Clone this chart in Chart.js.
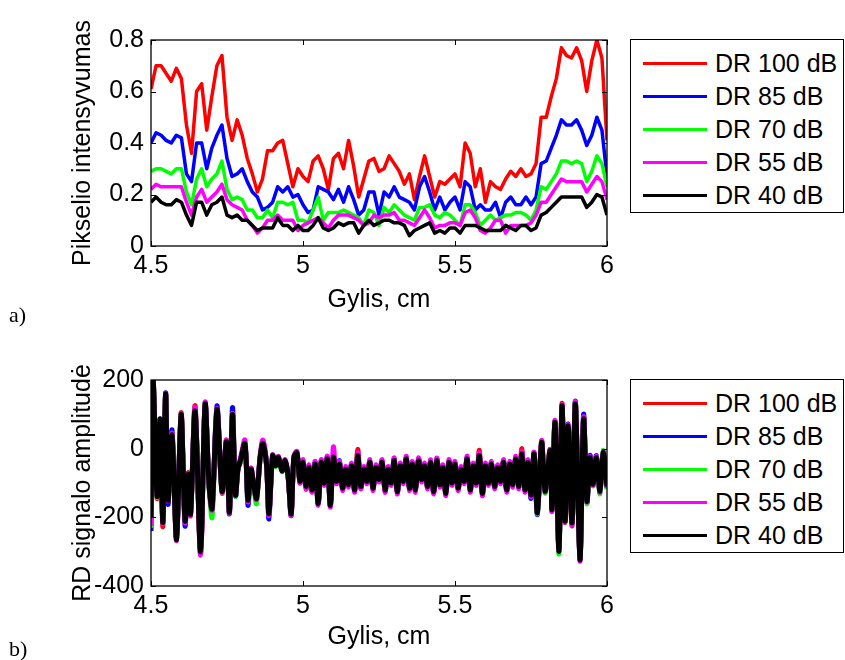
<!DOCTYPE html>
<html>
<head>
<meta charset="utf-8">
<script src="https://cdn.jsdelivr.net/npm/chart.js@4.4.0/dist/chart.umd.min.js"></script>
<style>
  html, body { margin: 0; padding: 0; background: #fff; }
  body { width: 845px; height: 660px; position: relative; overflow: hidden; font-family: "Liberation Sans", Arial, sans-serif; }
  canvas { position: absolute; left: 0; }
  .legend { position: absolute; left: 630px; width: 214px; height: 174px; border: 1px solid #000; box-sizing: border-box; background: #fff; }
  .row { position: absolute; left: 0; height: 30px; display: flex; align-items: center; font-size: 25px; color: #000; }
  .sample { width: 64px; height: 0; border-top: 3px solid #000; margin-left: 12px; margin-right: 8px; }
  .tag { position: absolute; left: 9px; font-family: "Liberation Serif", "Times New Roman", serif; font-size: 22px; line-height: 22px; }
</style>
</head>
<body>
<canvas id="chartIntensity" width="620" height="320" style="top:0"></canvas>
<canvas id="chartRd" width="620" height="320" style="top:340px"></canvas>
<div class="legend" id="legendIntensity" style="top:39px"></div>
<div class="legend" id="legendRd" style="top:379px"></div>
<div class="tag" style="top:304px">a)</div>
<div class="tag" style="top:638px">b)</div>
<script>
// --- series ---
const seriesNames = ['DR 100 dB', 'DR 85 dB', 'DR 70 dB', 'DR 55 dB', 'DR 40 dB'];
const seriesColors = ['#ff0000', '#0000ff', '#00ff00', '#ff00ff', '#000000'];

// --- axes ---
const depthTicks = [4.5, 5, 5.5, 6];
const intensityTicks = [0, 0.2, 0.4, 0.6, 0.8];
const amplitudeTicks = [-400, -200, 0, 200];
const depthStart = 4.5, depthEnd = 6;

// a) pixel intensity, sampled every 1/60 cm from 4.5 to 6 cm
const intensity100 = [
  0.61, 0.70, 0.70, 0.67, 0.64, 0.69, 0.65, 0.47, 0.36, 0.60,
  0.63, 0.45, 0.58, 0.70, 0.74, 0.50, 0.41, 0.49, 0.43, 0.34,
  0.28, 0.21, 0.26, 0.37, 0.37, 0.40, 0.41, 0.32, 0.23, 0.30,
  0.27, 0.25, 0.33, 0.35, 0.30, 0.22, 0.34, 0.36, 0.30, 0.41,
  0.31, 0.19, 0.26, 0.33, 0.34, 0.29, 0.30, 0.35, 0.32, 0.29,
  0.24, 0.28, 0.18, 0.27, 0.35, 0.27, 0.19, 0.25, 0.24, 0.26,
  0.28, 0.23, 0.40, 0.36, 0.23, 0.30, 0.17, 0.25, 0.23, 0.22,
  0.26, 0.29, 0.27, 0.30, 0.27, 0.28, 0.32, 0.50, 0.50, 0.58,
  0.65, 0.77, 0.74, 0.73, 0.77, 0.72, 0.60, 0.72, 0.80, 0.73,
  0.41
];
const intensity85 = [
  0.40, 0.44, 0.43, 0.41, 0.40, 0.43, 0.42, 0.28, 0.25, 0.40,
  0.40, 0.30, 0.38, 0.43, 0.47, 0.34, 0.27, 0.28, 0.30, 0.25,
  0.21, 0.19, 0.14, 0.15, 0.17, 0.23, 0.21, 0.23, 0.19, 0.20,
  0.16, 0.13, 0.14, 0.23, 0.22, 0.21, 0.18, 0.22, 0.17, 0.23,
  0.18, 0.12, 0.14, 0.21, 0.21, 0.12, 0.21, 0.19, 0.23, 0.19,
  0.18, 0.17, 0.14, 0.23, 0.27, 0.21, 0.14, 0.19, 0.14, 0.17,
  0.19, 0.14, 0.25, 0.23, 0.14, 0.16, 0.14, 0.14, 0.17, 0.11,
  0.17, 0.19, 0.16, 0.16, 0.19, 0.16, 0.19, 0.32, 0.33, 0.38,
  0.43, 0.49, 0.47, 0.47, 0.49, 0.45, 0.39, 0.43, 0.50, 0.45,
  0.27
];
const intensity70 = [
  0.29, 0.30, 0.30, 0.29, 0.28, 0.30, 0.30, 0.21, 0.16, 0.26,
  0.30, 0.23, 0.26, 0.28, 0.33, 0.22, 0.18, 0.19, 0.18, 0.14,
  0.14, 0.11, 0.11, 0.14, 0.11, 0.17, 0.17, 0.16, 0.17, 0.10,
  0.10, 0.09, 0.14, 0.19, 0.10, 0.13, 0.13, 0.13, 0.14, 0.13,
  0.12, 0.11, 0.08, 0.14, 0.13, 0.08, 0.15, 0.13, 0.16, 0.14,
  0.12, 0.11, 0.10, 0.15, 0.15, 0.16, 0.12, 0.11, 0.13, 0.12,
  0.10, 0.08, 0.16, 0.16, 0.13, 0.08, 0.10, 0.12, 0.10, 0.11,
  0.12, 0.12, 0.13, 0.13, 0.12, 0.10, 0.14, 0.23, 0.22, 0.25,
  0.28, 0.33, 0.33, 0.32, 0.33, 0.32, 0.25, 0.29, 0.35, 0.32,
  0.23
];
const intensity55 = [
  0.22, 0.24, 0.23, 0.23, 0.23, 0.23, 0.23, 0.17, 0.12, 0.19,
  0.22, 0.17, 0.19, 0.21, 0.24, 0.18, 0.16, 0.15, 0.14, 0.10,
  0.08, 0.05, 0.07, 0.10, 0.10, 0.12, 0.10, 0.10, 0.10, 0.06,
  0.08, 0.09, 0.10, 0.11, 0.09, 0.07, 0.10, 0.12, 0.12, 0.12,
  0.11, 0.10, 0.08, 0.09, 0.12, 0.11, 0.12, 0.12, 0.13, 0.10,
  0.10, 0.09, 0.08, 0.11, 0.14, 0.11, 0.07, 0.08, 0.08, 0.09,
  0.09, 0.08, 0.13, 0.14, 0.11, 0.06, 0.05, 0.07, 0.10, 0.10,
  0.05, 0.08, 0.08, 0.08, 0.08, 0.09, 0.12, 0.17, 0.17, 0.20,
  0.23, 0.26, 0.25, 0.25, 0.25, 0.25, 0.21, 0.24, 0.27, 0.25,
  0.18
];
const intensity40 = [
  0.17, 0.19, 0.17, 0.16, 0.16, 0.18, 0.17, 0.12, 0.08, 0.17,
  0.17, 0.12, 0.16, 0.17, 0.19, 0.12, 0.11, 0.12, 0.10, 0.10,
  0.08, 0.06, 0.07, 0.07, 0.07, 0.11, 0.08, 0.08, 0.06, 0.08,
  0.06, 0.06, 0.08, 0.11, 0.07, 0.06, 0.07, 0.09, 0.08, 0.09,
  0.09, 0.05, 0.08, 0.10, 0.08, 0.09, 0.10, 0.10, 0.09, 0.09,
  0.08, 0.04, 0.06, 0.07, 0.08, 0.09, 0.05, 0.06, 0.05, 0.07,
  0.07, 0.05, 0.08, 0.08, 0.08, 0.07, 0.06, 0.06, 0.06, 0.06,
  0.08, 0.07, 0.06, 0.08, 0.08, 0.06, 0.07, 0.12, 0.13, 0.15,
  0.17, 0.19, 0.19, 0.19, 0.19, 0.19, 0.15, 0.17, 0.20, 0.19,
  0.12
];

// b) RF signal amplitude, read at the turning points of the trace
const rdDepth = [
  4.500, 4.507, 4.520, 4.530, 4.539, 4.548, 4.556, 4.569, 4.584, 4.599,
  4.612, 4.622, 4.630, 4.645, 4.663, 4.678, 4.691, 4.701, 4.717, 4.734,
  4.748, 4.758, 4.768, 4.778, 4.786, 4.794, 4.809, 4.819, 4.829, 4.837,
  4.847, 4.859, 4.868, 4.880, 4.888, 4.900, 4.910, 4.919, 4.931, 4.941,
  4.951, 4.961, 4.970, 4.980,
  4.99, 5.00, 5.01, 5.02, 5.03, 5.04, 5.05, 5.06, 5.07, 5.08,
  5.09, 5.10, 5.11, 5.12, 5.13, 5.14, 5.15, 5.16, 5.17, 5.18,
  5.19, 5.20, 5.21, 5.22, 5.23, 5.24, 5.25, 5.26, 5.27, 5.28,
  5.29, 5.30, 5.31, 5.32, 5.33, 5.34, 5.35, 5.36, 5.37, 5.38,
  5.39, 5.40, 5.41, 5.42, 5.43, 5.44, 5.45, 5.46, 5.47, 5.48,
  5.49, 5.50, 5.51, 5.52, 5.53, 5.54, 5.55, 5.56, 5.57, 5.58,
  5.59, 5.60, 5.61, 5.62, 5.63, 5.64, 5.65, 5.66, 5.67, 5.68,
  5.69, 5.70, 5.71, 5.72, 5.73, 5.74, 5.75,
  5.760, 5.771, 5.785, 5.796, 5.813, 5.819, 5.829, 5.842, 5.852, 5.862,
  5.872, 5.885, 5.896, 5.911, 5.923, 5.934, 5.944, 5.954, 5.965, 5.977,
  5.987, 6.000
];
const rd100 = [
  -220, 195, -145, 80, -227, 158, -155, 35, -255, 105, -205, -70, -195, 125, -305, 128, -110, -170, 110, -130,
  25, -180, 98, -130, -55, -40, 10, -145, -65, -95, -140, -30, 12, -50, -185, -25, -45, -30, -60, -40,
  -85, -185, -30, -15,
  -100, -38, -118, -52, -125, -42, -158, -38, -105, -28, -162, -22, -100, -42, -118, -58, -108, -48, -122, -2,
  -112, -58, -98, -38, -118, -52, -95, -38, -125, -58, -102, -32, -128, -48, -98, -28, -118, -42, -122, -32,
  -95, -48, -112, -38, -128, -33, -108, -52, -133, -38, -102, -42, -118, -58, -98, -28, -123, -48, -102, -5,
  -133, -48, -102, -42, -113, -52, -98, -38, -123, -42, -108, -28, -112, 0, -122, -38, -138,
  -12, -183, 22, -120, -2, -182, 80, -292, 132, -215, 70, -225, 133, -318, 90, -150, -22, -108, -30, -120,
  -14, -112
];
const rd85 = [
  -240, 196, -135, 84, -210, 163, -162, 55, -260, 98, -225, -72, -188, 112, -295, 127, -108, -172, 125, -122,
  18, -190, 120, -137, -62, -33, 12, -165, -58, -103, -143, -28, 18, -43, -205, -22, -48, -27, -63, -37,
  -78, -195, -27, -14,
  -92, -35, -113, -50, -118, -40, -157, -35, -103, -25, -168, -28, -98, -35, -113, -62, -103, -45, -118, -18,
  -115, -58, -93, -38, -117, -50, -88, -35, -118, -62, -103, -30, -127, -45, -93, -27, -117, -40, -118, -30,
  -93, -45, -112, -38, -127, -30, -108, -50, -128, -37, -103, -40, -117, -55, -98, -27, -118, -45, -98, -18,
  -128, -45, -103, -40, -112, -50, -98, -35, -118, -40, -103, -27, -113, -12, -118, -35, -145,
  -18, -192, 15, -128, -10, -173, 73, -295, 120, -205, 72, -212, 138, -320, 100, -157, -20, -100, -20, -128,
  -8, -115
];
const rd70 = [
  -230, 197, -142, 88, -212, 159, -148, 42, -262, 96, -212, -78, -192, 108, -298, 132, -110, -200, 113, -128,
  22, -183, 102, -138, -58, -37, 13, -152, -62, -102, -160, -23, 14, -47, -192, -18, -52, -23, -67, -33,
  -82, -192, -23, -10,
  -98, -42, -107, -58, -117, -48, -162, -42, -98, -32, -163, -28, -92, -48, -112, -63, -102, -53, -118, -22,
  -108, -63, -92, -43, -112, -58, -87, -43, -117, -63, -98, -38, -122, -53, -92, -33, -112, -48, -117, -38,
  -88, -53, -108, -43, -122, -38, -102, -58, -127, -43, -98, -48, -112, -63, -92, -33, -117, -53, -97, -22,
  -127, -53, -97, -48, -107, -58, -92, -43, -117, -48, -102, -33, -107, -18, -117, -43, -132,
  -14, -190, 20, -130, -4, -180, 78, -307, 122, -208, 64, -220, 135, -322, 83, -160, -30, -108, -24, -132,
  -5, -118
];
const rd55 = [
  -225, 199, -137, 87, -218, 161, -152, 45, -268, 102, -215, -73, -193, 120, -310, 135, -103, -178, 117, -127,
  25, -188, 103, -133, -57, -30, 25, -155, -57, -98, -148, -20, 25, -43, -195, -18, -48, -22, -62, -32,
  -78, -195, -22, -8,
  -100, -32, -117, -47, -127, -37, -165, -32, -107, -22, -170, 5, -102, -37, -122, -52, -112, -42, -127, -12,
  -117, -52, -102, -32, -122, -47, -97, -32, -127, -52, -107, -27, -132, -42, -102, -22, -122, -37, -127, -27,
  -97, -42, -117, -32, -132, -27, -112, -47, -137, -32, -107, -37, -122, -52, -102, -22, -127, -42, -107, -12,
  -137, -42, -107, -37, -117, -47, -102, -32, -127, -37, -112, -22, -117, -8, -127, -32, -140,
  -10, -185, 24, -126, -3, -183, 82, -296, 128, -213, 70, -222, 136, -328, 92, -155, -23, -106, -23, -127,
  -9, -114
];
const rd40 = [
  -200, 198, -139, 86, -215, 160, -150, 40, -265, 100, -210, -75, -190, 110, -300, 130, -105, -175, 115, -125,
  20, -185, 100, -135, -60, -35, 15, -150, -60, -100, -145, -25, 15, -45, -190, -20, -50, -25, -65, -35,
  -80, -190, -25, -12,
  -95, -40, -110, -55, -120, -45, -160, -40, -100, -30, -165, -25, -95, -45, -115, -60, -105, -50, -120, -20,
  -110, -60, -95, -40, -115, -55, -90, -40, -120, -60, -100, -35, -125, -50, -95, -30, -115, -45, -120, -35,
  -90, -50, -110, -40, -125, -35, -105, -55, -130, -40, -100, -45, -115, -60, -95, -30, -120, -50, -100, -20,
  -130, -50, -100, -45, -110, -55, -95, -40, -120, -45, -105, -30, -110, -15, -120, -40, -135,
  -15, -187, 18, -124, -6, -177, 76, -299, 125, -211, 67, -216, 130, -324, 86, -153, -26, -104, -26, -124,
  -11, -110
];

const intensitySeries = [intensity100, intensity85, intensity70, intensity55, intensity40];
const rdSeries = [rd100, rd85, rd70, rd55, rd40];

Chart.defaults.font.family = '"Liberation Sans", Arial, sans-serif';
Chart.defaults.font.size = 25;
Chart.defaults.color = '#000';

// axes box with inward ticks on all four sides, like the original figure
const axesBox = {
  id: 'axesBox',
  afterDraw(chart) {
    const { ctx, chartArea: a, scales } = chart;
    const len = 5;
    ctx.save();
    ctx.strokeStyle = '#000';
    ctx.lineWidth = 1.3;
    ctx.strokeRect(a.left, a.top, a.right - a.left, a.bottom - a.top);
    ctx.lineWidth = 1;
    ctx.beginPath();
    scales.x.ticks.forEach(t => {
      const px = Math.round(scales.x.getPixelForValue(t.value)) + 0.5;
      ctx.moveTo(px, a.bottom); ctx.lineTo(px, a.bottom - len);
      ctx.moveTo(px, a.top); ctx.lineTo(px, a.top + len);
    });
    scales.y.ticks.forEach(t => {
      const py = Math.round(scales.y.getPixelForValue(t.value)) + 0.5;
      ctx.moveTo(a.left, py); ctx.lineTo(a.left + len, py);
      ctx.moveTo(a.right, py); ctx.lineTo(a.right - len, py);
    });
    ctx.stroke();
    ctx.restore();
  }
};

function makeOptions(yTicks, yTitle, xTitlePad) {
  return {
    responsive: false,
    animation: false,
    devicePixelRatio: 1,
    layout: { padding: { top: 40, right: 13, left: 0, bottom: 0 } },
    plugins: { legend: { display: false }, tooltip: { enabled: false } },
    elements: { point: { radius: 0 }, line: { tension: 0, borderJoinStyle: 'round' } },
    scales: {
      x: {
        type: 'linear',
        min: depthStart,
        max: depthEnd,
        afterBuildTicks: s => { s.ticks = depthTicks.map(v => ({ value: v })); },
        afterFit: s => { s.height = 74; },
        grid: { display: false, drawTicks: false },
        border: { display: false },
        ticks: { padding: 5, maxRotation: 0, callback: v => String(v) },
        title: { display: true, text: 'Gylis, cm', padding: { top: 0, bottom: xTitlePad } }
      },
      y: {
        type: 'linear',
        min: yTicks[0],
        max: yTicks[yTicks.length - 1],
        afterBuildTicks: s => { s.ticks = yTicks.map(v => ({ value: v })); },
        afterFit: s => { s.width = 151; },
        grid: { display: false, drawTicks: false },
        border: { display: false },
        ticks: { padding: 7, callback: v => String(v) },
        title: { display: true, text: yTitle, padding: { top: 68, bottom: 0 } }
      }
    }
  };
}

function makeDatasets(series, xAt, width, tension) {
  return series.map((vals, k) => ({
    label: seriesNames[k],
    data: vals.map((v, i) => ({ x: xAt(i, vals.length), y: v })),
    borderColor: seriesColors[k],
    backgroundColor: seriesColors[k],
    borderWidth: width,
    tension: tension,
    order: series.length - k
  }));
}

new Chart(document.getElementById('chartIntensity'), {
  type: 'line',
  data: {
    datasets: makeDatasets(intensitySeries,
      (i, n) => depthStart + i * (depthEnd - depthStart) / (n - 1), 3.5, 0)
  },
  options: makeOptions(intensityTicks, 'Pikselio intensyvumas', 5),
  plugins: [axesBox]
});

new Chart(document.getElementById('chartRd'), {
  type: 'line',
  data: { datasets: makeDatasets(rdSeries, i => rdDepth[i], 5, 0.3) },
  options: makeOptions(amplitudeTicks, 'RD signalo amplitudė', 8),
  plugins: [axesBox]
});

// legends
function buildLegend(id) {
  const box = document.getElementById(id);
  seriesNames.forEach((name, k) => {
    const row = document.createElement('div');
    row.className = 'row';
    row.style.top = (8 + k * 33) + 'px';
    const line = document.createElement('div');
    line.className = 'sample';
    line.style.borderTopColor = seriesColors[k];
    const txt = document.createElement('span');
    txt.textContent = name;
    row.appendChild(line);
    row.appendChild(txt);
    box.appendChild(row);
  });
}
buildLegend('legendIntensity');
buildLegend('legendRd');
</script>
</body>
</html>
